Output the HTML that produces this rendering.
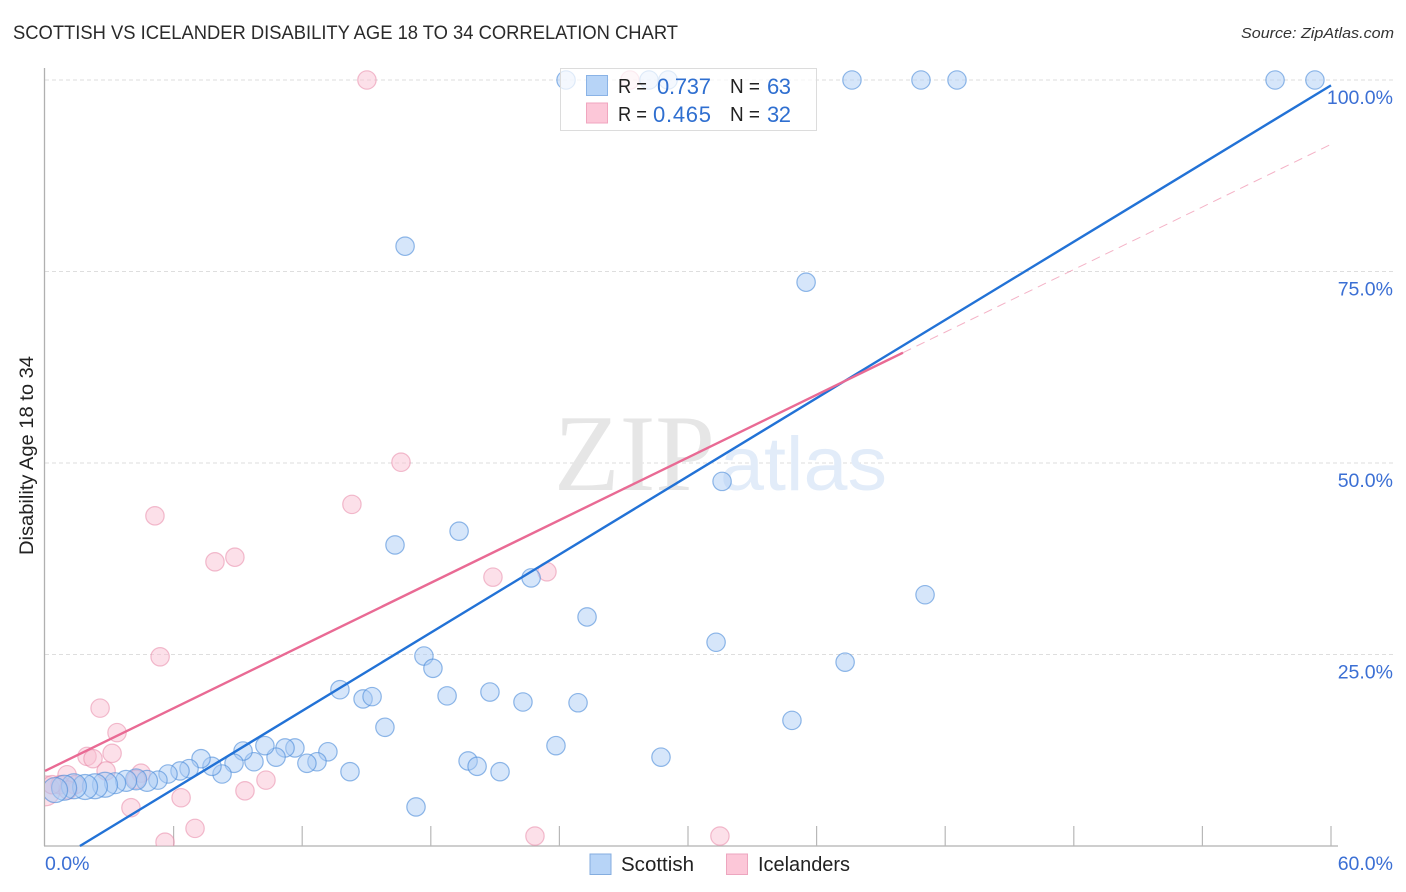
<!DOCTYPE html>
<html lang="en">
<head>
<meta charset="utf-8">
<title>Scottish vs Icelander Disability Age 18 to 34 Correlation Chart</title>
<style>
html,body{margin:0;padding:0;background:#fff;width:1406px;height:892px;overflow:hidden}
svg{display:block;font-family:"Liberation Sans",sans-serif}
</style>
</head>
<body>
<svg id="chart" width="1406" height="892" viewBox="0 0 1406 892" xmlns="http://www.w3.org/2000/svg">
  <defs>
    <clipPath id="plot-clip"><rect x="45" y="60" width="1361" height="786"/></clipPath>
  </defs>
  <rect width="1406" height="892" fill="#fff"/>
  <text x="13" y="39" font-size="19" fill="#2a2a2a" textLength="665" lengthAdjust="spacingAndGlyphs">SCOTTISH VS ICELANDER DISABILITY AGE 18 TO 34 CORRELATION CHART</text>
  <text x="1241" y="38" font-size="15" font-style="italic" fill="#333" textLength="153" lengthAdjust="spacingAndGlyphs">Source: ZipAtlas.com</text>
  <g id="grid"></g>
  <g>
    <text x="554" y="490" font-family="'Liberation Serif',serif" font-size="109" fill="#e6e6e6" textLength="161" lengthAdjust="spacingAndGlyphs">ZIP</text>
    <text x="720" y="490" font-size="76" fill="#e2ecf9" textLength="167" lengthAdjust="spacingAndGlyphs">atlas</text>
  </g>
  <g id="axes"></g>
  <g id="points" clip-path="url(#plot-clip)"></g>
  <g id="trends"></g>
  <g id="tick-labels"></g>
  <g>
    <rect x="560.5" y="68.5" width="256" height="62" fill="#fff" fill-opacity="0.72" stroke="#dcdcdc"/>
    <rect x="586.5" y="75.5" width="21" height="20" fill="#b7d4f7" stroke="#8ab3e6"/>
    <rect x="586.5" y="103" width="21" height="20" fill="#fcc7d8" stroke="#f0a6bf"/>
    <text x="618" y="93" font-size="20" fill="#222" textLength="29" lengthAdjust="spacingAndGlyphs">R =</text>
    <text x="657" y="94" font-size="22" fill="#2f6fd0" textLength="54">0.737</text>
    <text x="730" y="93" font-size="20" fill="#222" textLength="30" lengthAdjust="spacingAndGlyphs">N =</text>
    <text x="767" y="94" font-size="22" fill="#2f6fd0" textLength="24">63</text>
    <text x="618" y="121" font-size="20" fill="#222" textLength="29" lengthAdjust="spacingAndGlyphs">R =</text>
    <text x="653" y="122" font-size="22" fill="#2f6fd0" textLength="58">0.465</text>
    <text x="730" y="121" font-size="20" fill="#222" textLength="30" lengthAdjust="spacingAndGlyphs">N =</text>
    <text x="767" y="122" font-size="22" fill="#2f6fd0" textLength="24">32</text>
  </g>
  <text transform="translate(33,555) rotate(-90)" font-size="19" fill="#222" textLength="199" lengthAdjust="spacingAndGlyphs">Disability Age 18 to 34</text>
  <g>
    <rect x="590" y="854" width="21" height="20.5" fill="#b7d4f7" stroke="#84addf"/>
    <text x="621" y="871" font-size="20" fill="#222" textLength="73" lengthAdjust="spacingAndGlyphs">Scottish</text>
    <rect x="726.5" y="854" width="21" height="20.5" fill="#fcc7d8" stroke="#eda6bf"/>
    <text x="758" y="871" font-size="20" fill="#222" textLength="92" lengthAdjust="spacingAndGlyphs">Icelanders</text>
  </g>
</svg>
<script>
const scottishX = [24.31,28.18,29.07,37.65,40.87,42.55,57.39,59.25,16.80,35.51,31.59,19.32,16.33,22.68,41.06,25.29,31.31,17.68,18.10,37.33,13.76,14.84,15.26,18.76,20.76,22.30,24.87,34.85,15.86,23.84,28.74,19.74,20.16,21.23,17.31,14.23,13.20,12.69,12.22,11.66,11.20,10.78,10.26,9.75,9.24,8.82,8.26,7.79,7.28,6.72,6.30,5.74,5.27,4.76,4.25,3.78,3.27,2.80,2.33,1.87,1.35,0.89,0.47];
const scottishY = [100,100,100,100,100,100,100,100,78.3,73.6,47.6,41.1,39.3,35.0,32.8,29.9,26.6,24.8,23.2,24.0,20.4,19.2,19.5,19.6,20.1,18.8,18.7,16.4,15.5,13.1,11.6,11.1,10.4,9.7,5.1,9.7,12.3,11.0,10.8,12.8,12.8,11.6,13.1,11.0,12.4,10.8,9.4,10.4,11.4,10.1,9.8,9.4,8.6,8.5,8.7,8.5,8.2,8.0,7.8,7.7,7.8,7.6,7.3];
const icelandersX = [15.02,27.29,16.61,14.32,5.13,8.86,7.93,20.90,23.42,5.37,2.57,3.36,3.13,1.96,2.24,2.85,1.03,4.48,4.25,4.01,6.35,9.33,10.31,7.00,5.60,22.86,31.49,0.00,0.70,1.40,1.07,0.33];
const icelandersY = [100,100,50.1,44.6,43.1,37.7,37.1,35.1,35.8,24.7,18.0,14.8,12.1,11.7,11.4,9.8,9.3,9.5,8.7,5.0,6.3,7.2,8.6,2.3,0.5,1.3,1.3,7.2,8.0,8.0,7.3,8.0];
const scottishTrendX = [1.63,60];
const scottishTrendY = [0,99.3];
const icelandersTrendX = [0,40.03];
const icelandersTrendY = [9.8,64.4];
const icelandersDashX = [40.03,60];
const icelandersDashY = [64.4,91.6];
const xTicks = [6,12,18,24,30,36,42,48,54,60];
const xLabels = [0,60];
const yTicks = [25,50,75,100];

const NS = 'http://www.w3.org/2000/svg';
const xScale = v => 45 + v * (1286 / 60);
const yScale = v => 846 - v * (766 / 100);
function make(tag, parent, attrs) {
  const el = document.createElementNS(NS, tag);
  for (const k in attrs) el.setAttribute(k, attrs[k]);
  parent.appendChild(el);
  return el;
}
const grid = document.getElementById('grid');
const axes = document.getElementById('axes');
const pts = document.getElementById('points');
const trends = document.getElementById('trends');
const labels = document.getElementById('tick-labels');

yTicks.forEach(t => {
  const el = make('line', grid, {x1:45, x2:1393, y1:yScale(t), y2:yScale(t), stroke:'#dedede', 'stroke-width':1, 'stroke-dasharray':'4 3'});
  
  
  const tx = make('text', labels, {x:1393, y:yScale(t) + 24, 'text-anchor':'end', 'font-size':19.5, fill:'#3b6fd4'});
  tx.textContent = t.toFixed(1) + '%';
  
  
});

const yAxis = make('line', axes, {x1:44.5, x2:44.5, y1:68, y2:846, stroke:'#b0b0b0', 'stroke-width':1.3});


const xAxis = make('line', axes, {x1:44, x2:1338, y1:846, y2:846, stroke:'#b0b0b0', 'stroke-width':1.3});


xTicks.forEach(t => {
  const el = make('line', axes, {x1:xScale(t), x2:xScale(t), y1:826, y2:846, stroke:'#b8b8b8', 'stroke-width':1.2});
  
  
});
xLabels.forEach(t => {
  const atEnd = t === 60;
  const tx = make('text', labels, {x:atEnd ? 1393 : 45, y:870, 'text-anchor':atEnd ? 'end' : 'start', 'font-size':19.5, fill:'#3b6fd4'});
  tx.textContent = t.toFixed(1) + '%';
  
  
});

icelandersX.forEach((v, i) => {
  const r = i === 27 ? 15 : 9.2;
  const c = make('circle', pts, {cx:xScale(v), cy:yScale(icelandersY[i]), r:r, fill:'#f8bfd0', 'fill-opacity':0.48, stroke:'#e888a8', 'stroke-opacity':0.55, 'stroke-width':1.2});
  
  
});
scottishX.forEach((v, i) => {
  const r = i >= 57 ? 12.5 : (i >= 53 ? 10.5 : 9.2);
  const c = make('circle', pts, {cx:xScale(v), cy:yScale(scottishY[i]), r:r, fill:'#a9cbf5', 'fill-opacity':0.48, stroke:'#4a8ad8', 'stroke-opacity':0.6, 'stroke-width':1.2});
  
  
});

const dash = make('line', trends, {x1:xScale(icelandersDashX[0]), y1:yScale(icelandersDashY[0]), x2:xScale(icelandersDashX[1]), y2:yScale(icelandersDashY[1]), stroke:'#ec7fa0', 'stroke-width':1, 'stroke-dasharray':'9 6', 'stroke-opacity':0.6});


const blue = make('line', trends, {x1:xScale(scottishTrendX[0]), y1:yScale(scottishTrendY[0]), x2:xScale(scottishTrendX[1]), y2:yScale(scottishTrendY[1]), stroke:'#2272d6', 'stroke-width':2.4});


const pink = make('line', trends, {x1:xScale(icelandersTrendX[0]), y1:yScale(icelandersTrendY[0]), x2:xScale(icelandersTrendX[1]), y2:yScale(icelandersTrendY[1]), stroke:'#e96a94', 'stroke-width':2.4});


</script>
</body>
</html>
